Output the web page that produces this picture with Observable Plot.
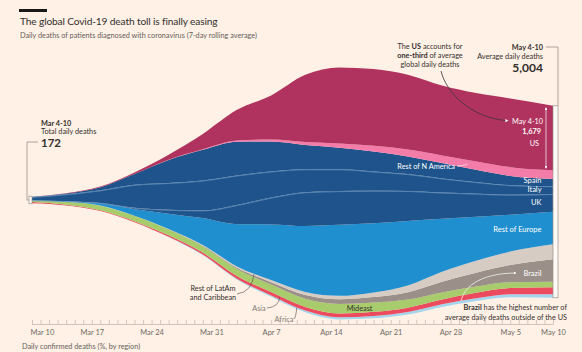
<!DOCTYPE html>
<html><head><meta charset="utf-8">
<script src="https://cdn.jsdelivr.net/npm/d3@7"></script>
<script src="https://cdn.jsdelivr.net/npm/@observablehq/plot@0.6"></script>
<style>
html,body{margin:0;padding:0;background:#fff1e5;}
body{width:582px;height:352px;position:relative;overflow:hidden;font-family:Lato,"Noto Sans",sans-serif;color:#33302e;}
#bar{position:absolute;left:19px;top:9px;width:28px;height:2.5px;background:#1a1817;}
#title{position:absolute;left:20px;top:14px;font-size:10.2px;letter-spacing:-0.15px;line-height:14px;white-space:nowrap;color:#33302e;}
#sub{position:absolute;left:20px;top:31px;font-size:7.3px;line-height:9px;white-space:nowrap;color:#66605c;}
#chart{position:absolute;left:0;top:42px;}
#foot{position:absolute;left:22px;top:342px;font-size:7.3px;line-height:9px;white-space:nowrap;color:#66605c;}
</style></head>
<body>
<div id="bar"></div>
<div id="title">The global Covid-19 death toll is finally easing</div>
<div id="sub">Daily deaths of patients diagnosed with coronavirus (7-day rolling average)</div>
<div id="chart"></div>
<div id="foot">Daily confirmed deaths (%, by region)</div>
<script>
// ---- data (7-day average daily deaths) ----
const dates = ["2020-03-10","2020-03-14","2020-03-18","2020-03-22","2020-03-26","2020-03-30","2020-04-03","2020-04-07","2020-04-11","2020-04-15","2020-04-19","2020-04-23","2020-04-27","2020-05-01","2020-05-05","2020-05-10"];
const regions = ["Africa","Asia","Mideast","Brazil","Rest of LatAm and Caribbean","Rest of Europe","UK","Italy","Spain","Rest of N America","US"];
const colors  = ["#a3d6ee","#ec4a5e","#a8cb6b","#9a9089","#d7ccc3","#1f8fd0","#1e548b","#1e548b","#1e548b","#f47ca9","#b0325e"];
const us       = [3, 6, 14, 40, 130, 400, 800, 1150, 1750, 1980, 2000, 1950, 1820, 1780, 1790, 1679];
const nAmerica = [0, 0, 1, 3, 8, 15, 30, 50, 80, 110, 150, 180, 200, 220, 230, 230];
const spain    = [2, 20, 80, 280, 600, 800, 880, 780, 630, 560, 520, 460, 400, 320, 240, 190];
const italy    = [85, 180, 330, 600, 700, 780, 770, 680, 600, 570, 500, 440, 370, 300, 250, 200];
const uk       = [1, 3, 10, 35, 100, 200, 500, 700, 880, 880, 850, 780, 680, 600, 520, 460];
const europe   = [8, 15, 60, 170, 400, 700, 1100, 1450, 1720, 1850, 1800, 1680, 1380, 1150, 960, 850];
const latam    = [0, 0, 1, 3, 8, 20, 35, 55, 80, 90, 120, 180, 260, 310, 350, 390];
const brazil   = [0, 0, 0, 1, 4, 12, 30, 60, 95, 120, 145, 190, 280, 360, 450, 590];
const mideast  = [40, 75, 120, 140, 150, 165, 185, 200, 215, 250, 240, 210, 185, 165, 150, 140];
const asia     = [33, 20, 20, 25, 40, 50, 70, 85, 95, 100, 110, 115, 125, 140, 160, 180];
const africa   = [0, 1, 2, 5, 10, 18, 25, 35, 45, 55, 60, 65, 70, 75, 80, 95];
const tickDates = ["2020-03-10","2020-03-17","2020-03-24","2020-03-31","2020-04-07","2020-04-14","2020-04-21","2020-04-28","2020-05-05","2020-05-10"];
const endLabels = ["Spain","Italy","UK","Rest of Europe","Brazil"];

// ---- build table + streamgraph stack (wiggle, first week centred on zero) ----
const parse = d3.utcParse("%Y-%m-%d");
const X = dates.map(parse);
const N = X.length - 1;
const series = [africa, asia, mideast, brazil, latam, europe, uk, italy, spain, nAmerica, us];
const rows = X.map((d, j) => { const r = {date: d}; regions.forEach((k, i) => r[k] = series[i][j]); return r; });
const totals = X.map((_, j) => d3.sum(series, s => s[j]));
const stacked = d3.stack().keys(regions).offset(d3.stackOffsetWiggle)(rows);
const shift0 = stacked[0][0][0] + totals[0] / 2;
stacked.forEach(s => s.forEach(p => { p[0] -= shift0; p[1] -= shift0; }));
const bands = stacked.flatMap((s, i) => s.map(p => ({region: regions[i], date: p.data.date, lo: p[0], hi: p[1], mid: (p[0] + p[1]) / 2})));
const fmt = d3.format(",");
const TD = tickDates.map(parse);
const days = d3.utcDay.range(X[0], d3.utcDay.offset(X[N], 1));

const H = 298, center = 158, perPx = 26.06, span = 4400;
const labelNudge = {"Spain": -2.5, "Italy": -1.5, "UK": -0.5, "Rest of Europe": 1.5, "Brazil": 2.5};
const endMarks = endLabels.map(name => Plot.text(
  bands.filter(b => +b.date === +X[N] && b.region === name),
  {x: "date", y: "mid", text: "region", dx: -12, dy: labelNudge[name], textAnchor: "end", fill: "white", fontSize: 7.5}));

const chart = Plot.plot({
  width: 582, height: H,
  marginLeft: 32, marginRight: 29, marginTop: 0, marginBottom: 16,
  style: {background: "transparent", fontFamily: "Lato, sans-serif", fontSize: "7.5px", color: "#d0c6bd", overflow: "visible"},
  x: {type: "utc", domain: [X[0], X[N]], ticks: [X[0]], tickSize: 0, tickFormat: () => "", line: true, label: null},
  y: {axis: null, domain: [-span, span], range: [center + span / perPx, center - span / perPx]},
  color: {domain: regions, range: colors},
  marks: [
    Plot.area(bands, {x1: "date", y1: "lo", y2: "hi", z: "region", fill: "region", curve: "monotone-x"}),
    Plot.line(bands.filter(b => b.region === "Spain" || b.region === "Italy"), {x: "date", y: "lo", z: "region", curve: "monotone-x", stroke: "#6f98c4", strokeWidth: 0.7}),
    Plot.ruleX(days, {x: d => d, insetTop: H - 16 - 4, stroke: "#c6bbb1", strokeWidth: 0.8}),
    Plot.text(TD.slice(1), {x: d => d, text: d => d3.utcFormat("%b %-d")(d), frameAnchor: "bottom", dy: 10.5, fill: "#726a64", fontSize: 7.5}),
    Plot.text(TD.slice(0, 1), {x: d => d, text: d => d3.utcFormat("%b %-d")(d), frameAnchor: "bottom", dy: 10.5, dx: -2, textAnchor: "start", fill: "#726a64", fontSize: 7.5}),
    ...endMarks
  ]
});
document.getElementById("chart").append(chart);

// ---- annotations, positioned with the plot's own scales ----
const xs = chart.scale("x"), ys = chart.scale("y");
const svg = d3.select(chart);
const defs = svg.append("defs");
defs.append("marker").attr("id", "arrW").attr("viewBox", "0 0 6 6").attr("refX", 5).attr("refY", 3)
  .attr("markerWidth", 4).attr("markerHeight", 4).attr("orient", "auto-start-reverse")
  .append("path").attr("d", "M0,0L6,3L0,6Z").attr("fill", "white");
const g = svg.append("g").attr("font-family", "Lato, sans-serif");

function txt(x, y, parts, o = {}) {
  const t = g.append("text").attr("x", x).attr("y", y).attr("dy", "0.35em")
    .attr("text-anchor", o.anchor || "start").attr("font-size", o.size || 7.3)
    .attr("fill", o.fill || "#33302e").attr("font-weight", o.weight || 400);
  (Array.isArray(parts) ? parts : [[parts, false]]).forEach(([s, b]) => t.append("tspan").attr("font-weight", b ? 700 : null).text(s));
}
function path(d, o = {}) {
  const p = g.append("path").attr("d", d).attr("fill", o.fill || "none").attr("stroke", o.stroke || "#33302e").attr("stroke-width", o.w || 0.8);
  if (o.end) p.attr("marker-end", "url(#arrW)");
  if (o.start) p.attr("marker-start", "url(#arrW)");
  return p;
}
function bandAt(name, date, f) {
  const ri = regions.indexOf(name), s = stacked[ri], t = +date;
  let j = d3.bisectRight(X.map(Number), t) - 1; j = Math.max(0, Math.min(N - 1, j));
  const u = (t - X[j]) / (X[j + 1] - X[j]);
  const v0 = s[j][0] + f * (s[j][1] - s[j][0]), v1 = s[j + 1][0] + f * (s[j + 1][1] - s[j + 1][0]);
  return ys.apply(v0 + u * (v1 - v0));
}
const D = s => parse(s);
const L = regions.length - 1;
const x0 = xs.apply(X[0]), xN = xs.apply(X[N]);
const top0 = ys.apply(stacked[L][0][1]), bot0 = ys.apply(stacked[0][0][0]);
const topN = ys.apply(stacked[L][N][1]), botN = ys.apply(stacked[0][N][0]);
const usTop = topN, usBot = ys.apply(stacked[L][N][0]);
const c0 = (top0 + bot0) / 2;

// left: first week total
txt(41, 81, [["Mar 4-10", true]]);
txt(41, 89.5, "Total daily deaths");
txt(41, 100.5, [[fmt(totals[0]), true]], {size: 11.5});
path(`M38,100H27V${c0}H${x0 - 3}`, {stroke: "#9b918a"});
g.append("rect").attr("x", x0 - 3).attr("y", top0 - 0.5).attr("width", 3).attr("height", bot0 - top0 + 1)
  .attr("fill", "#fffaf5").attr("stroke", "#9b918a").attr("stroke-width", 0.7);

// right: last week total
txt(543, 5, [["May 4-10", true]], {anchor: "end"});
txt(543, 14.5, "Average daily deaths", {anchor: "end"});
txt(543, 26, [[fmt(totals[N]), true]], {anchor: "end", size: 12});
g.append("rect").attr("x", xN).attr("y", topN).attr("width", 5).attr("height", botN - topN)
  .attr("fill", "#fffaf5").attr("stroke", "#9b918a").attr("stroke-width", 0.7);
path(`M546,5H${xN + 5}V${topN}`, {stroke: "#9b918a"});

// US annotation
txt(430, 4, [["The ", false], ["US", true], [" accounts for", false]], {anchor: "middle"});
txt(430, 13, [["one-third", true], [" of average", false]], {anchor: "middle"});
txt(430, 22, "global daily deaths", {anchor: "middle"});
path(`M441,29C446,50 470,${usTop + 12} 508,${usTop + 15}`, {stroke: "#3d3337", end: true});
txt(512, usTop + 16, "May 4-10", {fill: "white"});
txt(541, usTop + 26, [[fmt(us[N]), true]], {anchor: "end", fill: "white"});
txt(539, usTop + 38, "US", {anchor: "end", fill: "white"});
path(`M546,${usTop + 2}V${usBot - 2}`, {stroke: "white", w: 0.7, start: true, end: true});

// Rest of N America
const xNA = xs.apply(D("2020-04-30")), yNA = bandAt("Rest of N America", D("2020-04-30"), 0.5);
txt(455, 124, "Rest of N America", {anchor: "end", fill: "white"});
path(`M457,124Q${xNA - 4},124 ${xNA},${yNA}`, {stroke: "white", w: 0.6});

// Mideast
const dME = D("2020-04-17");
txt(xs.apply(dME) + 3, bandAt("Mideast", dME, 0.5), "Mideast", {anchor: "middle"});

// Brazil
const yBr = bandAt("Brazil", X[N], 0.5) + labelNudge["Brazil"];
path(`M461,259C466,238 492,${yBr} 516,${yBr}`, {stroke: "white", w: 0.7, end: true});
txt(567, 265, [["Brazil", true], [" has the highest number of", false]], {anchor: "end"});
txt(567, 275, "average daily deaths outside of the US", {anchor: "end"});

// bottom-left labels
const dLA = D("2020-04-05"), dAs = D("2020-04-08"), dAf = D("2020-04-10");
txt(213, 246, "Rest of LatAm", {anchor: "middle"});
txt(213, 255, "and Caribbean", {anchor: "middle"});
path(`M237,252Q${xs.apply(dLA) - 2},250 ${xs.apply(dLA)},${bandAt("Rest of LatAm and Caribbean", dLA, 0.5)}`, {stroke: "#4d4845", w: 0.6});
txt(259, 266, "Asia", {anchor: "middle", fill: "#857d77"});
path(`M267,266Q${xs.apply(dAs) - 1},265 ${xs.apply(dAs)},${bandAt("Asia", dAs, 0.5)}`, {stroke: "#4d4845", w: 0.6});
txt(284, 277, "Africa", {anchor: "middle", fill: "#857d77"});
path(`M294,277Q${xs.apply(dAf) - 1},276 ${xs.apply(dAf)},${bandAt("Africa", dAf, 0.5)}`, {stroke: "#4d4845", w: 0.6});
</script>
</body></html>
